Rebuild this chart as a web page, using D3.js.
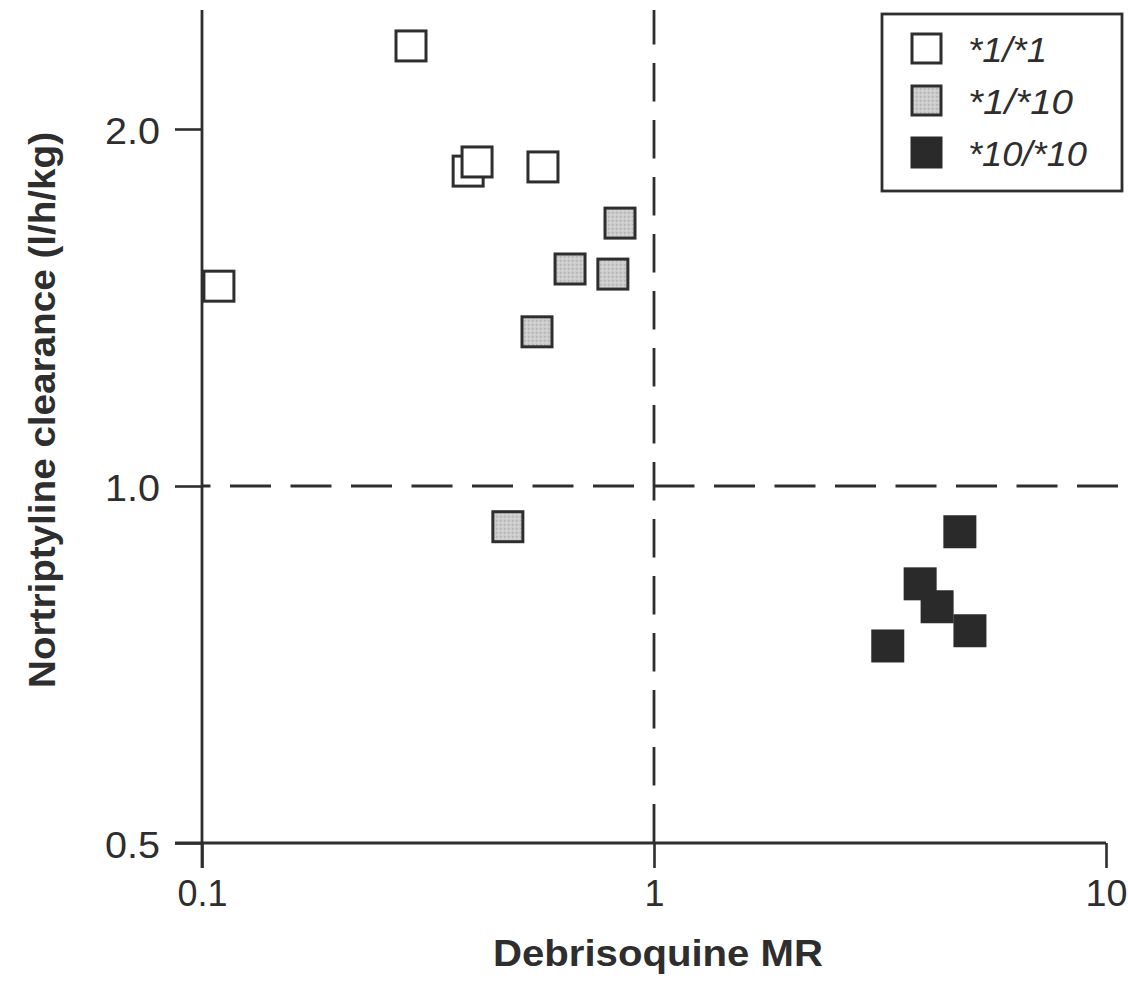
<!DOCTYPE html>
<html>
<head>
<meta charset="utf-8">
<script src="https://cdn.jsdelivr.net/npm/d3@7"></script>
<style>
  html, body { margin: 0; padding: 0; background: #fff; }
  svg { display: block; }
  text { font-family: "Liberation Sans", Arial, sans-serif; fill: #2e2e2e; }
</style>
</head>
<body>
<svg id="chart" width="1128" height="982"></svg>
<script>
// Genotype groups and their points (debrisoquine MR vs nortriptyline clearance)
const groups = ["*1/*1", "*1/*10", "*10/*10"];

const mrWildtype = [0.29, 0.388, 0.406, 0.568, 0.109];
const clWildtype = [2.35, 1.843, 1.876, 1.858, 1.474];

const mrHetero = [0.841, 0.652, 0.811, 0.551, 0.475];
const clHetero = [1.666, 1.524, 1.509, 1.349, 0.924];

const mrHomo = [4.75, 3.88, 4.23, 5.0, 3.29];
const clHomo = [0.915, 0.827, 0.791, 0.755, 0.733];

const xTicks = [0.1, 1, 10];
const xTickLabels = ["0.1", "1", "10"];
const yTicks = [0.5, 1.0, 2.0];
const yTickLabels = ["0.5", "1.0", "2.0"];

const xCut = 1;   // MR antimode
const yCut = 1.0; // clearance cut-off

const svg = d3.select("#chart");
const ink = "#2e2e2e";

const x = d3.scaleLog().domain([0.1, 10]).range([202, 1106]);
const y = d3.scaleLog().domain([0.5, 2.0]).range([843, 129]);
const yTop = 2.52;

// grey stipple for the heterozygous group
const defs = svg.append("defs");
const pat = defs.append("pattern")
  .attr("id", "stipple").attr("patternUnits", "userSpaceOnUse")
  .attr("width", 4).attr("height", 4);
pat.append("rect").attr("width", 4).attr("height", 4).attr("fill", "#cbcbcb");
pat.append("rect").attr("x", 0).attr("y", 0).attr("width", 1.5).attr("height", 1.5).attr("fill", "#b2b2b2");
pat.append("rect").attr("x", 2).attr("y", 2).attr("width", 1.5).attr("height", 1.5).attr("fill", "#dadada");

const fills = { "*1/*1": "#fff", "*1/*10": "url(#stipple)", "*10/*10": "#2a2a2a" };

// dashed reference lines
svg.append("line")
  .attr("x1", x(xCut)).attr("x2", x(xCut))
  .attr("y1", y(yTop)).attr("y2", y(0.5))
  .attr("stroke", ink).attr("stroke-width", 2.8)
  .attr("stroke-dasharray", "38.5,18.5").attr("stroke-dashoffset", 4);
svg.append("line")
  .attr("x1", x(0.1)).attr("x2", 1128)
  .attr("y1", y(yCut)).attr("y2", y(yCut))
  .attr("stroke", ink).attr("stroke-width", 2.8)
  .attr("stroke-dasharray", "41,19.5").attr("stroke-dashoffset", 32.5);

// axes
const xAxis = d3.axisBottom(x).tickValues(xTicks)
  .tickFormat((d, i) => xTickLabels[i]).tickSizeInner(25).tickSizeOuter(0).tickPadding(12);
const gx = svg.append("g").attr("transform", `translate(0,${y(0.5)})`).call(xAxis);

const yAxis = d3.axisLeft(y).tickValues(yTicks)
  .tickFormat((d, i) => yTickLabels[i]).tickSizeInner(27).tickSizeOuter(0).tickPadding(15);
const gy = svg.append("g").attr("transform", `translate(${x(0.1)},0)`).call(yAxis);

[gx, gy].forEach(g => {
  g.select(".domain").remove();
  g.selectAll(".tick line").attr("stroke", ink).attr("stroke-width", 2.6);
  g.selectAll(".tick text").attr("font-size", 37).attr("fill", ink).attr("font-family", null);
});
gy.selectAll(".tick text").attr("textLength", 55).attr("lengthAdjust", "spacingAndGlyphs").attr("dy", "0.4em");
gx.selectAll(".tick text").each(function(d, i) {
  d3.select(this).attr("textLength", [50, 20, 42][i]).attr("lengthAdjust", "spacingAndGlyphs");
});

// axis lines
svg.append("line").attr("x1", x(0.1)).attr("x2", x(0.1))
  .attr("y1", y(yTop)).attr("y2", y(0.5) + 25)
  .attr("stroke", ink).attr("stroke-width", 2.8);
svg.append("line").attr("x1", x(0.1) - 27).attr("x2", x(10))
  .attr("y1", y(0.5)).attr("y2", y(0.5))
  .attr("stroke", ink).attr("stroke-width", 2.8);

// axis titles
svg.append("text")
  .attr("x", 658).attr("y", 966)
  .attr("text-anchor", "middle").attr("font-size", 37).attr("font-weight", "bold")
  .attr("textLength", 330).attr("lengthAdjust", "spacingAndGlyphs")
  .text("Debrisoquine MR");

svg.append("text")
  .attr("transform", "translate(55,410) rotate(-90)")
  .attr("text-anchor", "middle").attr("font-size", 36).attr("font-weight", "bold")
  .attr("textLength", 556).attr("lengthAdjust", "spacingAndGlyphs")
  .text("Nortriptyline clearance (l/h/kg)");

// points
const series = [
  { key: "*1/*1", mr: mrWildtype, cl: clWildtype },
  { key: "*1/*10", mr: mrHetero, cl: clHetero },
  { key: "*10/*10", mr: mrHomo, cl: clHomo }
];
const side = 30;
series.forEach(s => {
  const pts = s.mr.map((m, i) => ({ mr: m, cl: s.cl[i] }));
  svg.append("g").selectAll("rect").data(pts).join("rect")
    .attr("x", d => x(d.mr) - side / 2)
    .attr("y", d => y(d.cl) - side / 2)
    .attr("width", side).attr("height", side)
    .attr("fill", fills[s.key])
    .attr("stroke", s.key === "*10/*10" ? "#2a2a2a" : ink)
    .attr("stroke-width", 3);
});

// legend
const lg = svg.append("g");
lg.append("rect").attr("x", 882).attr("y", 14).attr("width", 240).attr("height", 177)
  .attr("fill", "#fff").attr("stroke", ink).attr("stroke-width", 2.8);
const legendLen = [79, 105, 119];
groups.forEach((g, i) => {
  const cy = 49 + i * 52;
  lg.append("rect").attr("x", 912).attr("y", cy - 15).attr("width", 29).attr("height", 29)
    .attr("fill", fills[g]).attr("stroke", g === "*10/*10" ? "#2a2a2a" : ink).attr("stroke-width", 3);
  lg.append("text").attr("x", 968).attr("y", cy + 13)
    .attr("font-size", 35).attr("font-style", "italic")
    .attr("textLength", legendLen[i]).attr("lengthAdjust", "spacingAndGlyphs")
    .text(g);
});
</script>
</body>
</html>
